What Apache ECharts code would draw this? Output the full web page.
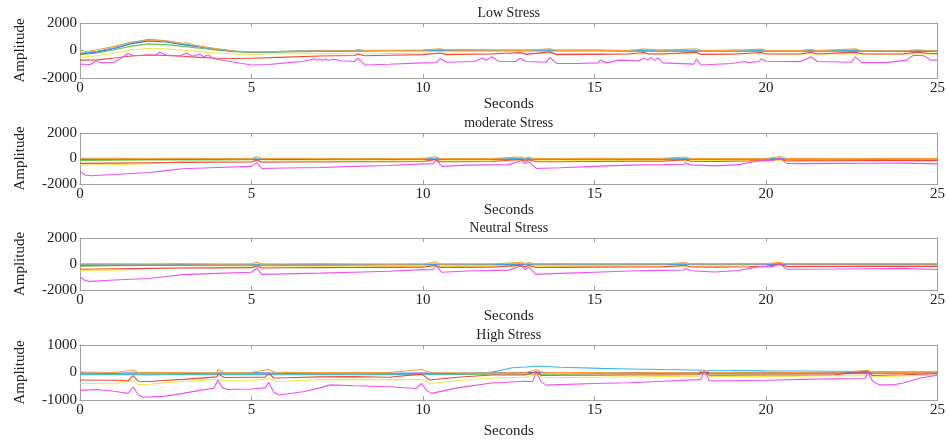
<!DOCTYPE html>
<html>
<head>
<meta charset="utf-8">
<script src="https://cdn.jsdelivr.net/npm/echarts@6/dist/echarts.min.js"></script>
<style>
html, body { margin: 0; padding: 0; background: #fff; }
#main { width: 948px; height: 444px; }
</style>
</head>
<body>
<div id="main"></div>
<script>
// panel titles and axis ticks
var panelTitles = ['Low Stress', 'moderate Stress', 'Neutral Stress', 'High Stress'];
var secondTicks = [0, 5, 10, 15, 20, 25];
var ampRanges = [[-2000, 2000, 2000], [-2000, 2000, 2000], [-2000, 2000, 2000], [-1000, 1000, 1000]];

// ---- Low Stress ----
var lowBlue = [[0,-250],[0.5,-100],[1,150],[1.5,500],[2,700],[2.5,620],[3,430],[3.5,260],[4,80],[4.5,-60],[5,-130],[5.5,-110],[6,-70],[6.5,-40],[7,-20],[8,-10],[9,0],[10,20],[10.5,40],[11,30],[12,10],[13,10],[14,10],[15,10],[16,-10],[17,10],[18,-10],[19,10],[20,-10],[21,-10],[22,-10],[23,-10],[24,-30],[25,-30]];
var lowCyan = [[0,-200],[0.5,-50],[1,200],[1.5,560],[2,820],[2.5,700],[3,480],[3.5,300],[4,100],[4.5,-40],[5,-120],[5.5,-100],[6,-60],[7,-30],[8,-10],[9,0],[10,20],[11,40],[12,20],[13,10],[14,20],[15,10],[16,0],[17,10],[18,0],[19,0],[20,-10],[21,0],[22,-10],[23,-20],[24,-10],[25,-20]];
var lowGreen = [[0,-300],[0.5,-180],[1,50],[1.5,320],[2,480],[2.5,430],[3,300],[3.5,160],[4,20],[4.5,-80],[5,-140],[5.5,-130],[6,-100],[7,-70],[8,-60],[9,-40],[10,-30],[11,-30],[12,-40],[13,-40],[14,-40],[15,-40],[16,-50],[17,-40],[18,-50],[19,-40],[20,-60],[21,-50],[22,-60],[23,-50],[24,-60],[25,-70]];
var lowYellow = [[0,-500],[0.5,-380],[1,-200],[1.5,50],[2,150],[2.5,120],[3,20],[3.5,-80],[4,-180],[4.5,-250],[5,-280],[5.5,-260],[6,-240],[7,-220],[8,-240],[9,-220],[10,-200],[11,-200],[12,-220],[13,-220],[14,-220],[15,-220],[16,-240],[17,-220],[18,-240],[19,-240],[20,-240],[21,-250],[22,-230],[23,-250],[24,-250],[25,-250]];
var lowRed = [[0,-700],[0.5,-680],[1,-550],[1.5,-400],[2,-330],[2.5,-360],[3,-420],[3.5,-500],[4,-560],[4.5,-580],[5,-560],[6,-480],[7,-400],[8,-360],[8.1,-250],[8.3,-380],[9,-340],[10,-300],[10.5,-180],[10.7,-300],[11,-290],[12,-260],[12.84,-150],[13,-280],[13.7,-100],[13.9,-300],[15,-280],[16,-260],[16.45,-150],[16.6,-250],[17,-260],[17.97,-120],[18.1,-280],[19,-270],[19.86,-150],[20,-260],[21,-250],[21.3,-130],[21.5,-250],[22.6,-120],[22.8,-250],[24,-250],[24.4,-120],[24.7,-200],[25,-230]];
var lowOrange = [[0,-150],[0.5,50],[1,300],[1.5,620],[2,760],[2.5,700],[3,500],[3.1,560],[3.3,420],[3.5,300],[4,120],[4.5,-40],[5,-100],[5.5,-80],[6,-50],[7,-20],[8,0],[8.1,80],[8.3,0],[9,10],[10,30],[10.5,120],[10.7,40],[11,30],[12,20],[13,10],[13.7,120],[13.9,0],[15,0],[16,10],[16.45,100],[16.65,90],[16.9,10],[17.97,120],[18.1,0],[19,0],[19.86,100],[20,0],[21,-10],[21.3,80],[21.5,-10],[22.6,120],[22.8,-20],[24,-20],[24.4,60],[25,-40]];
var lowMagenta = [[0,-1000],[0.3,-1020],[0.48,-750],[0.6,-900],[1,-850],[1.25,-500],[1.4,-200],[1.55,-380],[2,-330],[2.2,-350],[2.33,-130],[2.5,-330],[2.9,-400],[3.1,-180],[3.3,-420],[3.49,-250],[3.6,-450],[3.73,-320],[3.9,-600],[4.5,-850],[5,-1050],[5.5,-1020],[6,-900],[6.5,-800],[6.83,-600],[6.9,-720],[6.98,-620],[7.07,-720],[7.15,-600],[7.25,-720],[7.36,-620],[7.6,-750],[8,-800],[8.1,-550],[8.3,-1050],[9,-1000],[10,-900],[10.4,-870],[10.5,-600],[10.7,-850],[11.5,-800],[11.73,-550],[11.85,-720],[12,-450],[12.2,-780],[12.7,-800],[12.84,-560],[13,-800],[13.6,-850],[13.7,-500],[13.9,-950],[14.5,-950],[15.1,-900],[15.17,-700],[15.35,-900],[15.7,-700],[16.3,-750],[16.45,-550],[16.55,-700],[16.65,-500],[16.75,-720],[16.86,-550],[17,-900],[17.9,-990],[17.97,-620],[18.1,-1050],[19,-950],[19.38,-800],[19.5,-880],[19.8,-800],[19.86,-600],[20,-780],[21,-810],[21.3,-450],[21.5,-800],[22.5,-850],[22.6,-450],[22.8,-880],[23.5,-880],[24.1,-700],[24.3,-350],[24.6,-380],[24.8,-700],[25,-690]];

// ---- moderate Stress ----
var modBlue = [[0,-80],[1,-60],[2,-50],[3,-30],[4,-50],[5,-60],[6,-50],[7,-40],[8,-40],[9,-50],[10,-40],[11,-40],[12,-30],[13,-20],[14,-20],[15,-10],[16,-20],[17,-10],[18,-10],[19,-20],[20,-10],[21,-10],[22,0],[23,-10],[24,0],[25,-10]];
var modCyan = [[0,-40],[1,-30],[2,-20],[3,-10],[4,-30],[5,-30],[6,-20],[7,-20],[8,-30],[9,-20],[10,-20],[11,-30],[12,-20],[13,-10],[14,-10],[15,0],[16,-10],[17,0],[18,-10],[19,0],[20,0],[21,-10],[22,0],[23,0],[24,-10],[25,0]];
var modGreen = [[0,-150],[1,-130],[2,-120],[3,-100],[4,-110],[5,-100],[6,-90],[7,-80],[8,-90],[9,-80],[10,-80],[11,-90],[12,-80],[13,-70],[14,-80],[15,-70],[16,-70],[17,-60],[18,-70],[19,-60],[20,-70],[21,-60],[22,-60],[23,-70],[24,-60],[25,-60]];
var modYellow = [[0,-520],[1,-480],[2,-400],[3,-260],[4,-250],[5,-230],[6,-220],[7,-220],[8,-210],[9,-200],[10,-190],[11,-200],[12,-190],[13,-180],[14,-180],[15,-170],[16,-170],[17,-160],[18,-170],[19,-160],[20,-150],[21,-150],[22,-140],[23,-150],[24,-140],[25,-140]];
var modRed = [[0,-380],[1,-360],[2,-330],[3,-300],[4,-290],[5,-280],[5.15,-120],[5.3,-300],[6,-280],[7,-270],[8,-260],[9,-250],[10,-240],[10.36,-80],[10.5,-260],[11,-250],[12,-240],[12.87,-80],[12.97,-220],[13.08,-100],[13.3,-260],[14,-250],[15,-230],[16,-220],[17,-210],[17.64,-100],[17.8,-220],[18.5,-230],[19.5,-200],[20,-170],[20.4,-20],[20.6,-200],[21,-190],[22,-180],[23,-170],[24,-160],[25,-170]];
var modOrange = [[0,20],[1,10],[2,0],[3,10],[4,0],[5,-10],[5.15,150],[5.3,0],[6,10],[7,0],[8,-10],[9,0],[10,-10],[10.36,140],[10.5,0],[11,0],[12,-10],[12.87,130],[12.97,0],[13.08,120],[13.2,0],[14,0],[15,10],[16,0],[17,10],[17.64,120],[17.8,0],[18,0],[19,-10],[20,0],[20.4,150],[20.6,0],[21,10],[22,0],[23,0],[24,10],[25,0]];
var modMagenta = [[0,-1000],[0.15,-1300],[0.3,-1350],[1,-1250],[2,-1100],[2.5,-950],[3,-800],[4,-700],[5,-620],[5.15,-320],[5.3,-780],[6,-750],[7,-700],[8,-620],[9,-550],[10,-420],[10.3,-430],[10.38,-100],[10.55,-620],[11.3,-520],[12.5,-480],[12.87,-150],[12.97,-400],[13.08,-250],[13.3,-780],[14,-720],[15,-620],[16,-520],[17,-480],[17.6,-450],[17.66,-330],[17.8,-500],[18.5,-580],[19.2,-480],[19.8,-180],[20.2,-180],[20.4,50],[20.6,-380],[21,-400],[22,-380],[23,-370],[24,-360],[25,-420]];

// ---- Neutral Stress ----
var neuBlue = [[0,-90],[1,-70],[2,-60],[3,-40],[4,-50],[5,-60],[6,-50],[7,-40],[8,-50],[9,-40],[10,-40],[11,-30],[12,-40],[13,-20],[14,-30],[15,-20],[16,-20],[17,-10],[18,-20],[19,-10],[20,-10],[21,0],[22,-10],[23,0],[24,-10],[25,0]];
var neuCyan = [[0,-30],[1,-20],[2,-30],[3,-10],[4,-20],[5,-30],[6,-20],[7,-10],[8,-20],[9,-20],[10,-10],[11,-20],[12,-10],[13,-10],[14,0],[15,-10],[16,0],[17,-10],[18,0],[19,-10],[20,0],[21,0],[22,10],[23,0],[24,0],[25,10]];
var neuGreen = [[0,-160],[1,-140],[2,-120],[3,-110],[4,-100],[5,-100],[6,-90],[7,-90],[8,-80],[9,-80],[10,-80],[11,-70],[12,-80],[13,-70],[14,-70],[15,-60],[16,-70],[17,-60],[18,-60],[19,-60],[20,-50],[21,-60],[22,-50],[23,-60],[24,-50],[25,-50]];
var neuYellow = [[0,-500],[1,-470],[2,-380],[3,-270],[4,-250],[5,-240],[6,-230],[7,-220],[8,-210],[9,-200],[10,-200],[11,-190],[12,-190],[13,-180],[14,-180],[15,-170],[16,-170],[17,-160],[18,-160],[19,-150],[20,-150],[21,-140],[22,-140],[23,-140],[24,-130],[25,-130]];
var neuRed = [[0,-400],[1,-370],[2,-340],[3,-310],[4,-300],[5,-280],[5.15,-130],[5.3,-310],[6,-290],[7,-280],[8,-270],[9,-260],[10,-250],[10.36,-100],[10.5,-270],[11,-260],[12,-250],[12.87,-90],[12.97,-230],[13.08,-110],[13.3,-270],[14,-260],[15,-240],[16,-230],[17,-220],[17.64,-110],[17.8,-230],[18.5,-240],[19.5,-210],[20,-180],[20.4,-30],[20.6,-200],[21,-200],[22,-190],[23,-180],[24,-170],[25,-180]];
var neuOrange = [[0,10],[1,20],[2,0],[3,10],[4,-10],[5,0],[5.15,160],[5.3,-10],[6,0],[7,10],[8,0],[9,-10],[10,0],[10.36,150],[10.5,-10],[11,0],[12,0],[12.87,140],[12.97,-10],[13.08,130],[13.2,0],[14,10],[15,0],[16,10],[17,0],[17.64,110],[17.8,0],[18,10],[19,0],[20,10],[20.4,140],[20.6,0],[21,0],[22,10],[23,0],[24,0],[25,10]];
var neuMagenta = [[0,-1000],[0.15,-1280],[0.3,-1340],[1,-1230],[2,-1120],[2.5,-960],[3,-820],[4,-720],[5,-630],[5.15,-330],[5.3,-800],[6,-760],[7,-700],[8,-630],[9,-560],[10,-430],[10.3,-440],[10.38,-120],[10.55,-640],[11.3,-540],[12.5,-470],[12.87,-160],[12.97,-420],[13.08,-260],[13.3,-800],[14,-720],[15,-630],[16,-540],[17,-490],[17.6,-460],[17.66,-340],[17.8,-520],[18.5,-620],[19.2,-500],[19.8,-200],[20.2,-200],[20.4,40],[20.6,-400],[21,-400],[22,-390],[23,-360],[24,-340],[25,-420]];

// ---- High Stress ----
var highBlue = [[0,-20],[1,-30],[2,-10],[3,-30],[4,-20],[5,-10],[6,-30],[7,-20],[8,-10],[9,-30],[10,-20],[11,-30],[12,-10],[13,0],[14,0],[15,-10],[16,0],[17,-10],[18,0],[19,-10],[20,0],[21,-10],[22,0],[23,-10],[24,0],[25,0]];
var highCyan = [[0,-60],[1,-50],[2,-60],[3,-50],[4,-60],[5,-50],[6,-60],[7,-50],[8,-60],[9,-50],[10,-60],[11,-50],[11.8,-30],[12.2,60],[12.6,175],[13,200],[13.3,235],[14,190],[15.2,150],[16,130],[17,110],[18.2,80],[19,70],[20,60],[21,55],[22,45],[23,35],[24,30],[25,25]];
var highGreen = [[0,-80],[1,-70],[2,-90],[3,-70],[4,-80],[5,-70],[6,-80],[7,-70],[8,-80],[9,-70],[10,-80],[11,-70],[12,-60],[13,-50],[14,-60],[15,-50],[16,-50],[17,-40],[18,-50],[19,-40],[20,-50],[21,-40],[22,-30],[23,-40],[24,-30],[25,-20]];
var highYellow = [[0,-400],[1,-410],[1.55,-300],[1.7,-440],[2,-430],[3,-330],[4,-250],[4.02,-180],[4.2,-300],[5,-300],[5.5,-220],[5.7,-330],[6,-320],[7,-260],[8,-250],[9,-260],[9.96,-250],[10.2,-400],[11,-300],[12,-200],[13,-170],[13.3,-60],[13.5,-190],[14,-180],[15,-170],[16,-160],[17,-150],[18,-140],[18.2,-60],[18.4,-150],[19,-150],[20,-140],[21,-130],[22,-120],[23,-120],[23.2,-160],[24,-130],[25,-100]];
var highRed = [[0,-270],[1,-280],[1.4,-300],[1.55,-110],[1.7,-320],[2,-330],[3,-250],[4,-160],[4.02,-40],[4.2,-180],[5,-170],[5.4,-170],[5.5,-30],[5.65,-200],[6,-190],[7,-160],[8,-150],[9,-170],[9.96,-60],[10.2,-270],[11,-170],[12,-90],[13,-90],[13.3,40],[13.45,-110],[14,-100],[15,-100],[16,-90],[17,-90],[18,-80],[18.2,30],[18.35,-100],[19,-100],[20,-90],[21,-90],[22,-80],[22.97,40],[23.1,-110],[24,-80],[25,-40]];
var highOrange = [[0,20],[1,0],[1.55,80],[1.7,0],[2,10],[3,0],[4,10],[4.02,110],[4.2,0],[5,10],[5.5,110],[5.7,0],[6,10],[7,0],[8,10],[9,0],[9.96,110],[10.2,0],[11,-10],[12,-20],[13,0],[13.3,100],[13.5,-10],[14,0],[15,0],[16,-10],[17,0],[18,-10],[18.2,80],[18.4,-10],[19,0],[20,-10],[21,0],[22,-10],[22.97,80],[23.1,-10],[24,0],[25,10]];
var highMagenta = [[0,-650],[0.5,-620],[1,-680],[1.4,-760],[1.55,-530],[1.7,-820],[1.85,-900],[2.5,-860],[3,-760],[3.5,-650],[3.9,-570],[4.02,-280],[4.15,-550],[4.3,-620],[5,-600],[5.4,-560],[5.5,-360],[5.65,-720],[5.8,-820],[6.5,-700],[7,-560],[7.3,-450],[8,-480],[9,-520],[9.8,-580],[9.96,-400],[10.1,-650],[10.25,-760],[11,-560],[12,-380],[13,-320],[13.2,-330],[13.3,20],[13.45,-350],[13.6,-460],[14,-440],[15,-400],[16,-370],[17,-320],[18,-260],[18.1,-250],[18.2,60],[18.35,-300],[19,-300],[20,-280],[21,-250],[22,-230],[22.9,-220],[22.97,20],[23.1,-300],[23.3,-450],[23.7,-450],[24,-380],[24.5,-200],[25,-100]];

var channelColors = {
    green: '#6cc24a', yellow: '#f2e650', blue: '#3c62e6', cyan: '#38b8f0',
    red: '#f0483c', orange: '#f7a03a', magenta: '#ee50ee'
};

var panelData = [
    {green: lowGreen, yellow: lowYellow, blue: lowBlue, cyan: lowCyan, red: lowRed, orange: lowOrange, magenta: lowMagenta},
    {green: modGreen, yellow: modYellow, blue: modBlue, cyan: modCyan, red: modRed, orange: modOrange, magenta: modMagenta},
    {green: neuGreen, yellow: neuYellow, blue: neuBlue, cyan: neuCyan, red: neuRed, orange: neuOrange, magenta: neuMagenta},
    {green: highGreen, yellow: highYellow, blue: highBlue, cyan: highCyan, red: highRed, orange: highOrange, magenta: highMagenta}
];

// layout of the four stacked axes
var gridTops = [23, 133, 238, 345];
var gridHeights = [55, 51, 52, 55];
var secondsGap = [16, 18, 18, 24];

var font = 'Liberation Serif';
var boxColor = '#a0a0a0';

function plainNum(v) { return String(v); }

var grids = [], xAxes = [], yAxes = [], series = [];
for (var i = 0; i < 4; i++) {
    grids.push({left: 80, right: 8, top: gridTops[i], height: gridHeights[i], show: false});
    var xBase = {
        gridIndex: i, type: 'value', min: 0, max: 25, interval: 5,
        axisLine: {show: true, onZero: false, lineStyle: {color: boxColor, width: 1}},
        axisTick: {show: true, inside: true, length: 4, lineStyle: {color: boxColor}},
        splitLine: {show: false}
    };
    xAxes.push(Object.assign({}, xBase, {
        position: 'bottom',
        axisLabel: {color: '#222', fontFamily: font, fontSize: 15, margin: 3, formatter: plainNum},
        name: 'Seconds', nameLocation: 'middle', nameGap: secondsGap[i],
        nameTextStyle: {color: '#222', fontFamily: font, fontSize: 15}
    }));
    xAxes.push(Object.assign({}, xBase, {
        position: 'top',
        axisLabel: {show: false},
        name: panelTitles[i], nameLocation: 'middle', nameGap: 3,
        nameTextStyle: {color: '#222', fontFamily: font, fontSize: 14}
    }));
    var r = ampRanges[i];
    var yBase = {
        gridIndex: i, type: 'value', min: r[0], max: r[1], interval: r[2],
        axisLine: {show: true, onZero: false, lineStyle: {color: boxColor, width: 1}},
        axisTick: {show: true, inside: true, length: 4, lineStyle: {color: boxColor}},
        splitLine: {show: false}
    };
    yAxes.push(Object.assign({}, yBase, {
        position: 'left',
        axisLabel: {color: '#222', fontFamily: font, fontSize: 15, margin: 3, formatter: plainNum},
        name: 'Amplitude', nameLocation: 'middle', nameGap: 52,
        nameTextStyle: {color: '#222', fontFamily: font, fontSize: 15}
    }));
    yAxes.push(Object.assign({}, yBase, {
        position: 'right',
        axisLabel: {show: false}
    }));

    var d = panelData[i];
    ['green', 'yellow', 'blue', 'cyan', 'red', 'orange', 'magenta'].forEach(function(ch){
        series.push({
            type: 'line', xAxisIndex: 2 * i, yAxisIndex: 2 * i,
            data: d[ch], showSymbol: false, silent: true,
            lineStyle: {color: channelColors[ch], width: 1.1},
            itemStyle: {color: channelColors[ch]}
        });
    });
}

var chart = echarts.init(document.getElementById('main'));
chart.setOption({
    animation: false,
    backgroundColor: '#fff',
    grid: grids,
    xAxis: xAxes,
    yAxis: yAxes,
    series: series
});
</script>
</body>
</html>
